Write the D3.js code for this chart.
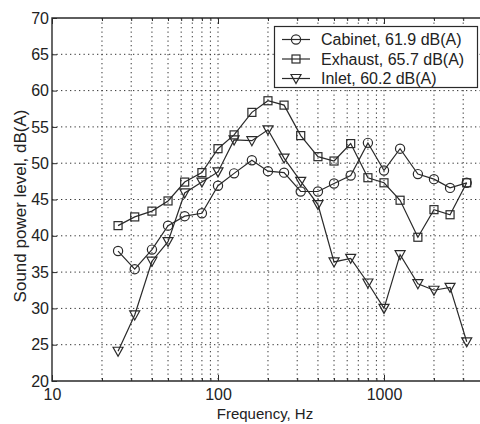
<!DOCTYPE html>
<html><head><meta charset="utf-8">
<script src="https://cdn.jsdelivr.net/npm/d3@7"></script>
<style>body{margin:0;background:#fff}svg{display:block}text{font-family:"Liberation Sans",Arial,sans-serif;fill:#222}</style>
</head><body><div id="c"></div>
<script>
const freqs = [25,31.5,40,50,63,80,100,125,160,200,250,315,400,500,630,800,1000,1250,1600,2000,2500,3150];
const cabinet = [37.9,35.4,38.1,41.4,42.7,43.1,46.9,48.6,50.4,48.9,48.7,46.1,46.1,47.2,48.3,52.8,49.0,52.0,48.5,47.8,46.6,47.3];
const exhaust = [41.4,42.6,43.4,44.8,47.4,48.7,52.0,53.9,57.0,58.6,58.0,53.8,50.9,50.3,52.7,48.0,47.3,44.9,39.8,43.6,42.9,47.3];
const inlet = [24.1,29.1,36.5,39.2,45.9,47.4,48.8,53.2,53.1,54.6,50.7,47.5,44.3,36.4,36.9,33.5,30.0,37.4,33.4,32.5,32.9,25.4];
const seriesNames = ["Cabinet, 61.9 dB(A)","Exhaust, 65.7 dB(A)","Inlet, 60.2 dB(A)"];
const markers = ["circle","square","triangle"];
const yTicks = [20,25,30,35,40,45,50,55,60,65,70];
const xMajor = [10,100,1000];

const W=480,H=424;
const L=52,T=18,R=550,B=381;
const svg=d3.select("#c").append("svg").attr("width",W).attr("height",H);
const x=d3.scaleLog().domain([10,10000]).range([L,R]);
const y=d3.scaleLinear().domain([20,70]).range([B,T]);
const ink="#2a2a2a";

const xMinor=[];
for(let d=10;d<10000;d*=10){for(let k=2;k<=9;k++)xMinor.push(d*k);}
const xGrid=xMinor.concat([100,1000]);

const g=svg.append("g");
g.selectAll(".vg").data(xGrid).join("line")
 .attr("x1",d=>x(d)).attr("x2",d=>x(d)).attr("y1",T).attr("y2",B)
 .attr("stroke","#333").attr("stroke-width",1).attr("stroke-dasharray","1.3,3.2");
g.selectAll(".hg").data(yTicks.slice(1,-1)).join("line")
 .attr("x1",L).attr("x2",R).attr("y1",d=>y(d)).attr("y2",d=>y(d))
 .attr("stroke","#333").attr("stroke-width",1).attr("stroke-dasharray","1.3,3.2");

const yAxis=d3.axisLeft(y).tickValues(yTicks).tickSize(-5).tickPadding(3).tickFormat(d3.format("d"));
svg.append("g").attr("transform",`translate(${L},0)`).call(yAxis);
const xAxis=d3.axisBottom(x).tickValues(xMajor).tickSize(-6).tickPadding(8).tickFormat(d3.format("d"));
svg.append("g").attr("transform",`translate(0,${B})`).call(xAxis);
svg.append("g").attr("transform",`translate(0,${B})`).call(d3.axisBottom(x).tickValues(xMinor).tickSize(-3).tickFormat(""));
svg.append("g").attr("transform",`translate(0,${T})`).call(d3.axisTop(x).tickValues(xMajor).tickSize(-6).tickFormat(""));
svg.append("g").attr("transform",`translate(0,${T})`).call(d3.axisTop(x).tickValues(xMinor).tickSize(-3).tickFormat(""));
svg.selectAll(".domain").remove();
svg.selectAll(".tick line").attr("stroke",ink);
svg.selectAll(".tick text").style("font-size","16px").attr("fill","#222");
svg.append("path").attr("d",`M${R},${T}H${L}V${B}H${R}`).attr("fill","none").attr("stroke",ink).attr("stroke-width",1.4);

const data=[cabinet,exhaust,inlet];
const line=d3.line().x((d,i)=>x(freqs[i])).y(d=>y(d));
function drawMarker(sel,type,cx,cy){
  if(type==="circle") sel.append("circle").attr("cx",cx).attr("cy",cy).attr("r",4.6);
  else if(type==="square") sel.append("rect").attr("x",cx-4).attr("y",cy-4).attr("width",8).attr("height",8);
  else sel.append("path").attr("d",`M${cx-5},${cy-4}L${cx+5},${cy-4}L${cx},${cy+5}Z`);
}
data.forEach((s,k)=>{
  svg.append("path").attr("d",line(s)).attr("fill","none").attr("stroke",ink).attr("stroke-width",1.2);
  const mg=svg.append("g").attr("fill","none").attr("stroke",ink).attr("stroke-width",1.2);
  s.forEach((v,i)=>drawMarker(mg,markers[k],x(freqs[i]),y(v)));
});

const lg=svg.append("g");
lg.append("rect").attr("x",274.5).attr("y",26.5).attr("width",203).attr("height",61).attr("fill","#fff").attr("stroke",ink).attr("stroke-width",1.2);
seriesNames.forEach((n,k)=>{
  const cy=39.5+k*19.5;
  lg.append("line").attr("x1",282).attr("x2",310).attr("y1",cy).attr("y2",cy).attr("stroke",ink).attr("stroke-width",1.2);
  const mg=lg.append("g").attr("fill","none").attr("stroke",ink).attr("stroke-width",1.2);
  drawMarker(mg,markers[k],296,cy);
  lg.append("text").attr("x",321).attr("y",cy+5.5).style("font-size","16px").text(n);
});

svg.append("text").attr("x",265).attr("y",419).attr("text-anchor","middle").style("font-size","15px").text("Frequency, Hz");
svg.append("text").attr("transform","translate(26,206) rotate(-90)").attr("text-anchor","middle").style("font-size","17px").text("Sound power level, dB(A)");
</script></body></html>
